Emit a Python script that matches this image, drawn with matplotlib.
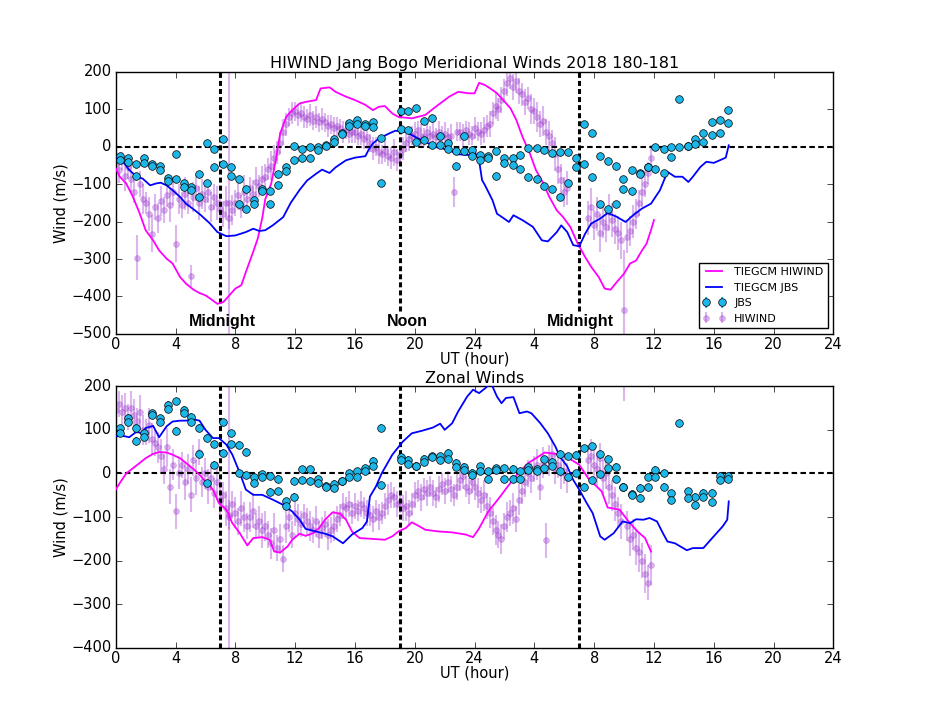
import numpy as np
import matplotlib
matplotlib.use('Agg')
import matplotlib.pyplot as plt

plt.style.use('classic')
plt.rcParams['xtick.major.pad'] = 2
plt.rcParams['ytick.major.pad'] = 3
plt.rcParams['xtick.labelsize'] = 10.5
plt.rcParams['ytick.labelsize'] = 10.5

# ---------------- data ----------------
xtick_pos = [0, 4, 8, 12, 16, 20, 24, 28, 32, 36, 40, 44, 48]
xtick_lab = ['0', '4', '8', '12', '16', '20', '24', '4', '8', '12', '16', '20', '24']
marker_hours = [7, 19, 31]
marker_text_hours = [7.1, 19.5, 31.1]
marker_texts = ['Midnight', 'Noon', 'Midnight']

# TIEGCM model along HIWIND track (meridional)
mer_tmh_t = [0, 0.27, 0.7, 1.15, 1.6, 2.0, 2.5, 2.9, 3.4, 3.8, 4.3, 4.7, 5.2, 5.6, 6.0, 6.5, 6.8, 7.2, 7.6, 8.0,
             8.4, 8.7, 9.2, 9.5, 9.8, 10.0, 10.4, 10.7, 11.0, 11.4, 11.8, 12.3, 12.7, 13.4, 13.7, 14.3, 14.7, 15.4, 16.0, 16.7,
             17.2, 17.6, 18.0, 18.5, 18.9, 19.8, 20.7, 21.4, 22.3, 22.9, 23.6, 24.0, 24.3, 24.7, 25.2, 25.5, 25.8, 26.4, 26.8, 27.2,
             27.7, 28.1, 28.6, 29.0, 29.5, 29.9, 30.4, 30.9, 31.4, 31.8, 32.3, 32.7, 33.1, 33.5, 34.0, 34.4, 34.8, 35.2, 35.5, 35.8, 36.0]
mer_tmh_v = [-58, -80, -98, -134, -178, -223, -250, -277, -299, -312, -348, -366, -382, -391, -397, -411, -420, -415, -397, -379,
             -370, -335, -280, -245, -190, -140, -98, -36, 36, 80, 98, 116, 120, 125, 156, 159, 147, 134, 125, 112,
             98, 107, 109, 89, 80, 76, 85, 107, 134, 147, 143, 143, 171, 165, 152, 143, 130, 103, 71, 27,
             -18, -62, -98, -134, -170, -187, -214, -259, -295, -321, -348, -379, -382, -362, -339, -312, -304, -277, -259, -223, -196]

# TIEGCM model along JBS (meridional)
mer_tmj_t = [0, 0.5, 0.9, 1.4, 1.8, 2.3, 2.7, 3.0, 3.4, 3.8, 4.3, 4.7, 5.3, 5.7, 6.3, 6.8, 7.4, 8.0, 8.7, 9.2,
             9.6, 10.0, 10.5, 11.2, 11.7, 12.3, 12.8, 13.4, 13.8, 14.3, 14.7, 15.4, 16.0, 16.7, 16.9, 17.2, 17.6, 18.3, 18.7, 19.4,
             20.0, 20.7, 21.4, 22.3, 22.9, 23.6, 24.0, 24.3, 24.5, 24.7, 25.2, 25.5, 25.8, 26.3, 26.6, 27.2, 27.9, 28.5, 28.9, 29.5,
             29.8, 30.2, 30.6, 31.0, 31.4, 31.8, 32.4, 32.9, 33.5, 34.1, 34.6, 35.2, 35.8, 36.4, 36.9, 37.4, 37.9, 38.3, 38.6, 39.1,
             39.5, 40.0, 40.4, 40.8, 41.0]
mer_tmj_v = [-27, -40, -62, -80, -85, -103, -98, -96, -103, -116, -134, -152, -170, -183, -205, -228, -239, -237, -228, -219,
             -225, -223, -210, -188, -150, -115, -90, -72, -61, -70, -55, -36, -29, -25, -9, 9, 22, 36, 43, 40,
             27, 13, 0, -9, -20, -22, -13, -36, -89, -103, -143, -179, -187, -201, -183, -196, -214, -250, -253, -228,
             -210, -228, -263, -266, -232, -205, -192, -177, -187, -201, -183, -165, -152, -116, -67, -80, -80, -94, -80, -54,
             -40, -43, -36, -29, 4]

# TIEGCM model along HIWIND track (zonal)
zon_tmh_t = [0, 0.27, 0.7, 1.15, 1.6, 2.0, 2.5, 2.9, 3.4, 3.8, 4.3, 4.7, 5.2, 5.6, 6.0, 6.5, 6.9, 7.4, 7.8, 8.3,
             8.8, 9.2, 9.8, 10.3, 10.6, 11.0, 11.5, 11.8, 12.3, 12.7, 13.2, 13.6, 14.0, 14.5, 15.0, 15.4, 15.8, 16.3, 17.2, 18.0,
             18.5, 18.9, 19.4, 19.8, 20.3, 20.7, 21.6, 22.5, 23.4, 23.9, 24.3, 24.9, 25.6, 26.3, 26.9, 27.6, 28.7, 29.6, 30.3, 31.0,
             31.6, 32.5, 32.9, 33.7, 34.3, 34.9, 35.4, 35.8]
zon_tmh_v = [-37, -22, 0, 12, 24, 35, 45, 49, 48, 43, 35, 24, 10, -3, -18, -37, -68, -83, -114, -137,
             -165, -148, -146, -152, -179, -181, -167, -152, -138, -143, -137, -125, -106, -89, -92, -106, -133, -148, -150, -152,
             -144, -133, -125, -112, -121, -129, -133, -135, -140, -146, -126, -88, -58, -26, 0, 24, 48, 44, 35, 20,
             -11, -41, -78, -83, -110, -133, -148, -179]

# TIEGCM model along JBS (zonal)
zon_tmj_t = [0, 0.5, 0.9, 1.4, 1.7, 2.0, 2.5, 2.9, 3.4, 3.8, 4.3, 4.7, 5.2, 5.6, 6.0, 6.5, 6.9, 7.4, 7.8, 8.3,
             8.7, 9.2, 9.8, 10.5, 11.2, 11.8, 12.3, 12.7, 13.4, 14.0, 14.5, 15.2, 15.8, 16.5, 16.8, 17.0, 17.4, 17.8, 18.5, 19.2,
             19.8, 20.5, 21.2, 21.7, 22.0, 22.5, 22.9, 23.5, 23.9, 24.3, 24.7, 25.1, 25.5, 25.8, 26.1, 26.6, 27.0, 27.5, 27.8, 28.4,
             28.9, 29.4, 29.7, 30.2, 30.6, 31.0, 31.5, 31.9, 32.4, 32.7, 33.3, 33.9, 34.4, 34.8, 35.3, 35.7, 36.2, 36.6, 36.9, 37.4,
             38.2, 38.6, 39.3, 40.0, 40.6, 40.9, 41.0]
zon_tmj_v = [85, 86, 83, 96, 92, 104, 109, 83, 108, 119, 121, 121, 124, 121, 100, 81, 81, 66, 43, 1,
             -37, -49, -49, -60, -72, -87, -106, -127, -133, -138, -144, -160, -140, -125, -110, -53, -30, 1, 43, 73,
             92, 98, 105, 114, 100, 115, 142, 176, 192, 184, 195, 207, 176, 161, 173, 175, 138, 142, 138, 115,
             92, 62, 39, 16, -15, -37, -68, -91, -144, -152, -137, -110, -114, -105, -106, -102, -110, -137, -156, -160,
             -176, -171, -171, -144, -121, -106, -64]

# JBS observations (two look directions per time)
jbs_t = [0.3, 0.82, 1.35, 1.88, 2.42, 2.95, 3.47, 4.0, 4.54, 5.06, 5.57, 6.08, 6.6, 7.14, 7.68, 8.22, 8.74, 9.28, 9.8, 10.32,
         10.86, 11.4, 11.94, 12.46, 13.0, 13.52, 14.04, 14.58, 15.1, 15.62, 16.14, 16.66, 17.2, 17.72, 19.05, 19.58, 20.1, 20.62, 21.16, 21.68,
         22.22, 22.74, 23.26, 23.8, 24.35, 24.9, 25.45, 26.0, 26.55, 27.05, 27.6, 28.15, 28.65, 29.2, 29.7, 30.25, 30.8, 31.35, 31.85, 32.4,
         32.9, 33.45, 33.95, 34.5, 35.05, 35.6, 36.1, 36.65, 37.15, 37.7, 38.25, 38.75, 39.3, 39.85, 40.4, 40.95]
jbs_mer_a = [-25, -31, -47, -31, -45, -52, -83, -20, -98, -107, -74, 9, -6, 22, -55, -87, -114, -143, -112, -119,
             -73, -55, 3, -5, 0, 0, 4, 21, 37, 64, 71, 62, 65, 23, 96, 96, 105, 69, 76, 29,
             9, -11, 29, -9, -23, -25, -12, -29, -29, -21, -4, -3, -9, -16, -15, -15, -31, 60, 36, -25,
             -38, -52, -87, -61, -71, -54, 0, -6, 0, 129, 3, 21, 37, 67, 72, 98]
jbs_mer_b = [-36, -40, -79, -42, -51, -61, -92, -86, -107, -116, -134, -96, -54, -47, -79, -152, -166, -154, -118, -154,
             -102, -64, -34, -31, -29, -9, 2, 14, 35, 56, 60, 56, 54, -98, 47, 44, 12, 19, 4, 4,
             -7, -51, -10, -25, -36, -31, -78, -42, -49, -60, -82, -86, -105, -113, -134, -96, -54, -46, -80, -152,
             -167, -153, -112, -119, -73, -55, -60, -70, -27, 0, 3, 7, 13, 31, 36, 64]
jbs_zon_a = [104, 128, 105, 92, 138, 127, 157, 165, 146, 130, 105, 82, 67, 117, 92, 66, 50, -9, -2, -5,
             -12, -64, -17, 10, 10, -13, -28, -24, -18, 1, 5, 12, 29, 105, 37, 31, 18, 34, 40, 39,
             48, 24, 15, 2, 16, 5, 12, 12, 11, 5, 15, 10, 33, 27, 45, 39, 43, 58, 62, 45,
             34, 15, -31, -47, -33, -7, 8, 1, -45, 115, -41, -53, -44, -44, -5, -5]
jbs_zon_b = [92, 119, 75, 83, 134, 119, 147, 98, 138, 119, 45, -22, 20, 48, 67, 1, -4, -21, -8, -42,
             -41, -74, -53, -15, -17, -22, -31, -34, -18, -9, -8, 5, 18, -27, 30, 21, 18, 27, 38, 31,
             34, 15, 8, -3, 6, -12, 8, -13, -12, -12, 8, 6, 12, 16, 5, -7, 1, -30, -15, -2,
             12, -13, -30, -49, -56, -32, -7, -30, -60, np.nan, -56, -73, -54, -66, -16, -12]
jbs_err = 8

# HIWIND observations
hiwind_t = [0.0, 0.2, 0.4, 0.6, 0.8, 1.0, 1.2, 1.4, 1.6, 1.8, 2.0, 2.2, 2.4, 2.6, 2.8, 3.0, 3.2, 3.4, 3.6, 3.8,
            4.0, 4.2, 4.4, 4.6, 4.8, 5.0, 5.2, 5.4, 5.6, 5.8, 6.0, 6.2, 6.4, 6.6, 6.8, 7.0, 7.2, 7.4, 7.6, 7.8,
            8.0, 8.2, 8.4, 8.6, 8.8, 9.0, 9.2, 9.4, 9.6, 9.8, 10.0, 10.2, 10.4, 10.6, 10.8, 11.0, 11.2, 11.4, 11.6, 11.8,
            12.0, 12.2, 12.4, 12.6, 12.8, 13.0, 13.2, 13.4, 13.6, 13.8, 14.0, 14.2, 14.4, 14.6, 14.8, 15.0, 15.2, 15.4, 15.6, 15.8,
            16.0, 16.2, 16.4, 16.6, 16.8, 17.0, 17.2, 17.4, 17.6, 17.8, 18.0, 18.2, 18.4, 18.6, 18.8, 19.0, 19.2, 19.4, 19.6, 19.8,
            20.0, 20.2, 20.4, 20.6, 20.8, 21.0, 21.2, 21.4, 21.6, 21.8, 22.0, 22.2, 22.4, 22.6, 22.8, 23.0, 23.2, 23.4, 23.6, 23.8,
            24.0, 24.2, 24.4, 24.6, 24.8, 25.0, 25.2, 25.4, 25.6, 25.8, 26.0, 26.2, 26.4, 26.6, 26.8, 27.0, 27.2, 27.4, 27.6, 27.8,
            28.0, 28.2, 28.4, 28.6, 28.8, 29.0, 29.2, 29.4, 29.6, 29.8, 30.0, 30.2,
            31.6, 31.8, 32.0, 32.2, 32.4, 32.6, 32.8, 33.0, 33.2, 33.4, 33.6, 33.8, 34.0, 34.2, 34.4, 34.6, 34.8, 35.0, 35.2, 35.4,
            35.6, 35.8, 7.55]
hiwind_mer = [-45, -62, -38, -78, -55, -85, -120, -296, -100, -140, -150, -180, -232, -160, -190, -145, -170, -130, -155, -120,
              -259, -140, -155, -125, -150, -346, -135, -110, -150, -125, -140, -120, -160, -135, -150, -165, -180, -150, -190, -170,
              -150, -130, -160, -120, -140, -110, -125, -95, -105, -85, -80, -60, -50, -30, -15, 10, 40, 60, 80, 90,
              95, 85, 90, 80, 75, 85, 70, 80, 65, 75, 65, 55, 60, 50, 55, 50, 40, 45, 35, 40,
              40, 30, 35, 20, 25, 10, -5, 0, -15, -20, -10, -25, -30, -15, -35, -20, -5, 10, 20, 30,
              35, 45, 30, 25, 40, 30, 35, 25, 40, 30, 35, 25, 30, -120, 40, 40, 30, 45, 35, 30,
              50, 40, 35, 45, 55, 60, 90, 110, 100, 125, 150, 170, 185, 160, 175, 150, 140, 120, 130, 100,
              95, 80, 60, 70, 40, 30, 10, -20, -60, -90, -120, -110,
              -190, -160, -210, -180, -230, -200, -215, -175, -195, -220, -230, -250, -435, -240, -225, -200, -180, -150, -120, -100,
              -70, -30, -150]
hiwind_mer_err = [30, 35, 25, 40, 30, 35, 30, 60, 35, 40, 30, 45, 50, 35, 40, 40, 35, 30, 45, 35,
                  50, 40, 35, 45, 30, 30, 40, 35, 45, 40, 35, 30, 40, 35, 45, 40, 35, 45, 30, 40,
                  35, 40, 30, 45, 35, 30, 35, 40, 30, 35, 35, 30, 40, 35, 30, 30, 35, 30, 25, 30,
                  25, 30, 25, 30, 25, 30, 25, 30, 25, 30, 25, 30, 25, 30, 25, 25, 30, 25, 25, 30,
                  30, 25, 30, 25, 30, 25, 30, 25, 30, 25, 30, 25, 30, 35, 30, 25, 30, 25, 30, 25,
                  30, 25, 30, 25, 30, 25, 30, 25, 30, 25, 30, 25, 30, 40, 25, 25, 30, 25, 30, 25,
                  30, 25, 30, 35, 30, 35, 30, 35, 30, 35, 30, 35, 30, 35, 30, 35, 30, 35, 30, 40,
                  35, 40, 35, 40, 35, 40, 35, 45, 40, 45, 40, 45,
                  45, 50, 40, 45, 50, 45, 40, 50, 45, 40, 45, 50, 160, 45, 40, 45, 40, 35, 40, 35,
                  30, 35, 700]
hiwind_zon = [145, 160, 140, 150, 130, 150, 135, 120, 140, 100, 95, 110, 80, 70, 60, 40, 10, 60, -30, 20,
              -87, 0, 20, -20, 10, -49, 30, -10, 50, -20, 0, -30, -10, -45, -20, -60, -50, -80, -95, -70,
              -90, -110, -80, -100, -120, -100, -85, -120, -110, -130, -120, -140, -160, -130, -170, -150, -195, -120, -100, -140,
              -90, -105, -115, -95, -110, -120, -130, -110, -140, -125, -115, -140, -130, -120, -105, -95, -75, -80, -70, -90,
              -75, -85, -70, -80, -90, -95, -105, -85, -100, -90, -75, -60, -50, -55, -70, -65, -80, -75, -90, -70,
              -50, -40, -55, -35, -45, -30, -45, -55, -35, -25, -40, -20, -35, -50, -30, -15, -5, -30, -40, -20,
              -30, -45, -60, -50, -75, -90, -110, -130, -140, -150, -120, -100, -90, -80, -105, -60, -40, -20, 0, -10,
              10, 20, -30, 25, -153, 30, 45, 10, 20, 0, 5, -10,
              30, 40, 20, 10, 35, -10, 0, -30, -50, -70, -90, -110, 260, -120, -150, -140, -170, -180, -200, -230,
              -250, -210, -100]
hiwind_zon_err = [35, 30, 40, 35, 30, 40, 35, 30, 40, 35, 30, 40, 35, 30, 35, 40, 35, 45, 40, 35,
                  40, 35, 30, 40, 35, 40, 35, 40, 30, 35, 35, 40, 30, 35, 40, 35, 30, 40, 35, 30,
                  35, 30, 40, 35, 30, 35, 40, 30, 35, 40, 35, 30, 35, 40, 30, 35, 30, 40, 35, 30,
                  30, 35, 30, 25, 30, 35, 30, 35, 30, 25, 30, 35, 30, 35, 30, 25, 30, 25, 30, 25,
                  30, 25, 30, 25, 30, 25, 30, 25, 30, 25, 30, 35, 30, 25, 30, 25, 30, 35, 30, 25,
                  30, 25, 30, 25, 30, 25, 30, 25, 30, 25, 30, 25, 30, 25, 30, 25, 30, 25, 30, 25,
                  30, 35, 30, 35, 30, 35, 30, 35, 30, 35, 30, 35, 30, 35, 30, 35, 30, 35, 30, 35,
                  30, 35, 30, 35, 40, 35, 30, 35, 30, 35, 30, 35,
                  35, 40, 35, 40, 35, 40, 35, 40, 35, 40, 35, 40, 95, 35, 40, 35, 40, 45, 40, 45,
                  40, 45, 600]

# ---------------- plotting ----------------
fig, (ax1, ax2) = plt.subplots(2, 1, figsize=(9.26, 7.2), dpi=100)
fig.patch.set_facecolor('white')

hw_color = 'darkorchid'
jbs_color = '#1cb6e8'


def panel(ax, tmh_t, tmh_v, tmj_t, tmj_v, jbs_a, jbs_b, hw_v, hw_e, ylim, vline_bottom):
    ax.axhline(0, color='k', lw=1.5, dashes=(4.0, 2.4), zorder=2)
    for h in marker_hours:
        ax.plot([h, h], [vline_bottom, ylim[1]], color='k', lw=2.2, dashes=(3.6, 2.2), zorder=2)
    hw = ax.errorbar(hiwind_t, hw_v, yerr=hw_e, fmt='o', color=hw_color, ecolor=hw_color,
                     mec=hw_color, ms=4.2, alpha=0.35, elinewidth=1.5, capsize=0, zorder=1, label='HIWIND')
    l1, = ax.plot(tmh_t, tmh_v, color='magenta', lw=1.3, zorder=3, label='TIEGCM HIWIND')
    l2, = ax.plot(tmj_t, tmj_v, color='b', lw=1.3, zorder=3, label='TIEGCM JBS')
    jt = jbs_t + jbs_t
    jv = list(jbs_a) + list(jbs_b)
    jb = ax.errorbar(jt, jv, yerr=jbs_err, fmt='o', color=jbs_color, ecolor=jbs_color, mfc=jbs_color,
                     mec='k', mew=0.5, ms=5.5, capsize=0, elinewidth=1.5, zorder=4, label='JBS')
    ax.set_xlim(0, 48)
    ax.set_ylim(*ylim)
    ax.set_xticks(xtick_pos)
    ax.set_xticklabels(xtick_lab)
    ax.set_xlabel('UT (hour)', fontsize=10.5, labelpad=0)
    ax.set_ylabel('Wind (m/s)', fontsize=10.5, labelpad=2)
    return [l1, l2, jb, hw]


handles = panel(ax1, mer_tmh_t, mer_tmh_v, mer_tmj_t, mer_tmj_v, jbs_mer_a, jbs_mer_b,
                hiwind_mer, hiwind_mer_err, (-500, 200), -440)
panel(ax2, zon_tmh_t, zon_tmh_v, zon_tmj_t, zon_tmj_v, jbs_zon_a, jbs_zon_b,
      hiwind_zon, hiwind_zon_err, (-400, 200), -400)

for h, s in zip(marker_text_hours, marker_texts):
    ax1.text(h, -468, s, ha='center', va='center', fontsize=11.5, fontweight='bold',
             family=['Liberation Sans', 'DejaVu Sans'])

ax1.set_title('HIWIND Jang Bogo Meridional Winds 2018 180-181', fontsize=11.5, pad=3)
ax2.set_title('Zonal Winds', fontsize=11.5, pad=2)
ax1.legend(handles, ['TIEGCM HIWIND', 'TIEGCM JBS', 'JBS', 'HIWIND'], loc='lower right',
           fontsize=8, numpoints=2)

fig.savefig('out.png', dpi=100, facecolor='white')
